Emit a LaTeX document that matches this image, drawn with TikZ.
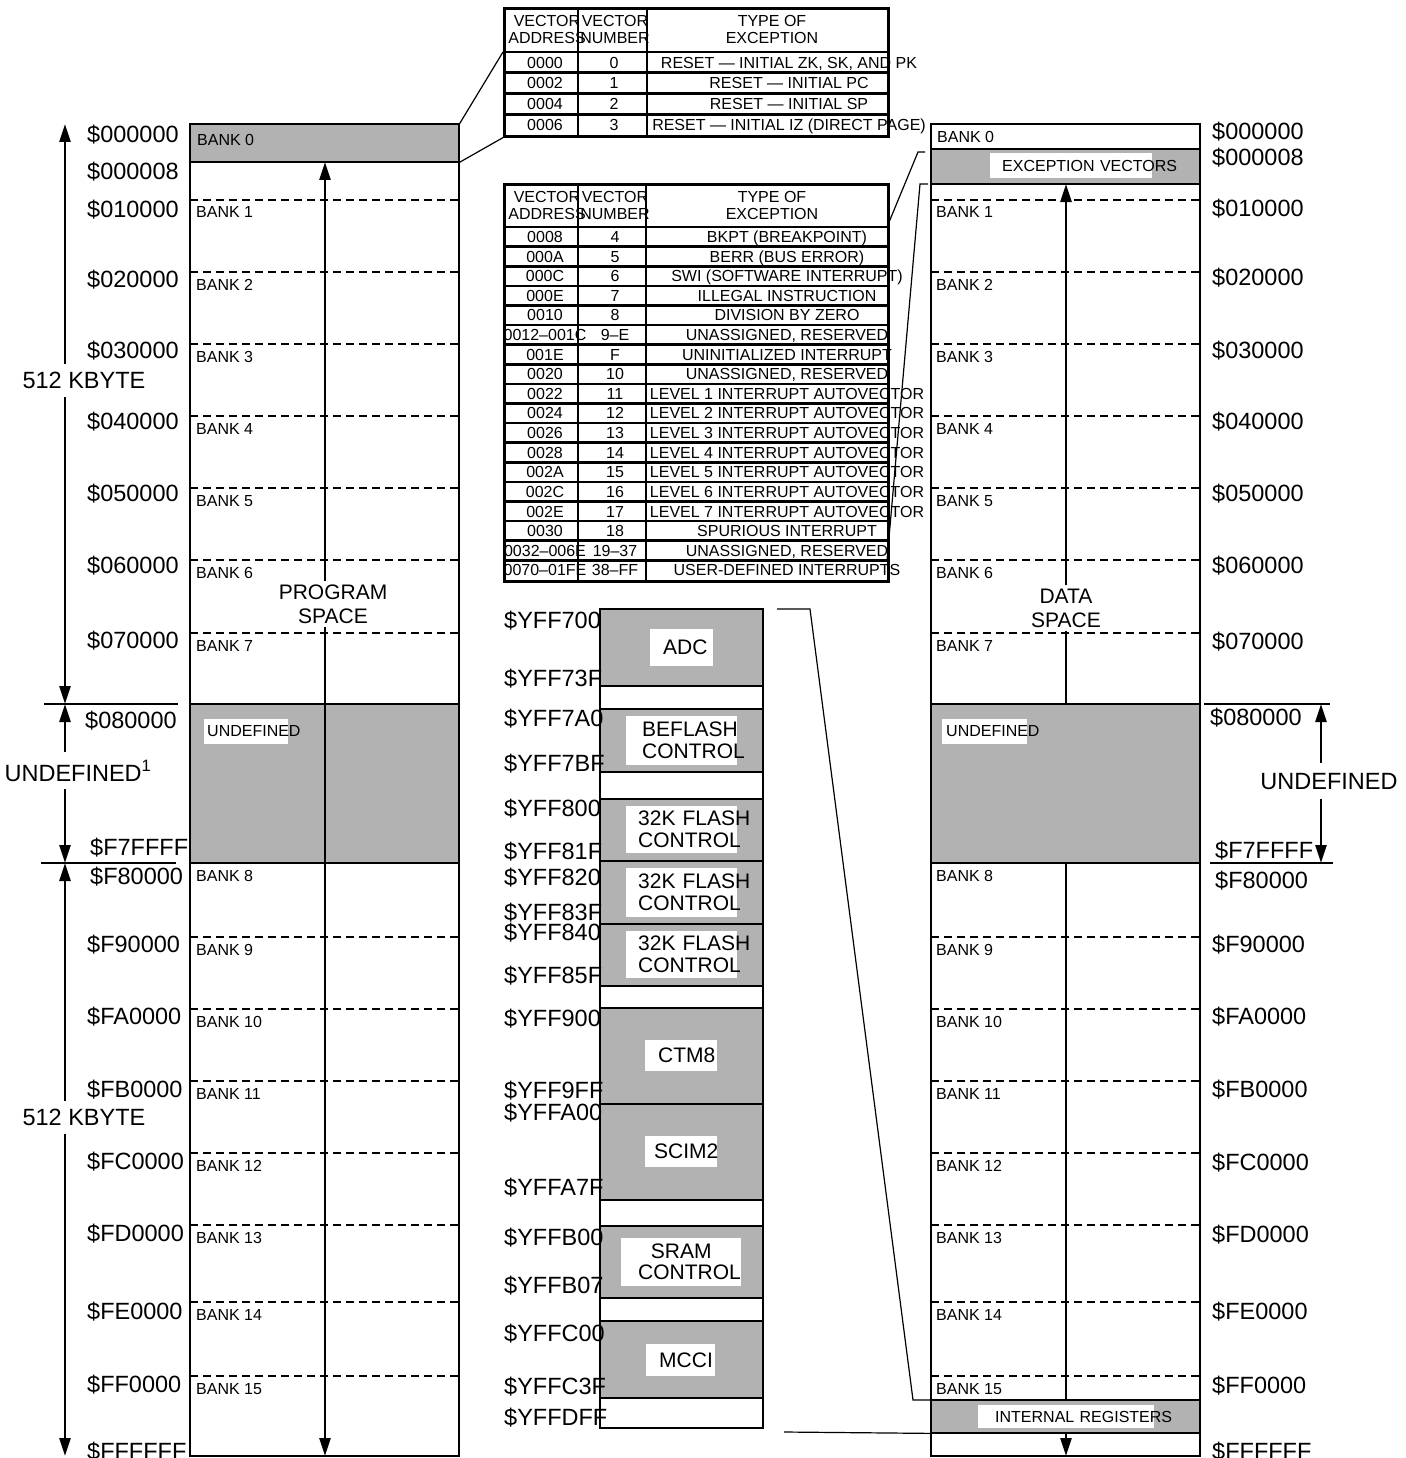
\documentclass[tikz,border=0pt]{standalone}
\usepackage{fontspec}
\setmainfont{Liberation Sans}
\usetikzlibrary{arrows.meta}
\definecolor{mapgrey}{RGB}{178,178,178}
\newcommand{\addrfont}{\fontsize{23.5}{25}\selectfont}
\newcommand{\modfont}{\fontsize{21}{21.5}\selectfont}
\newcommand{\tabfont}{\fontsize{16}{17}\selectfont}
\uchyph=0
\hyphenpenalty=10000
\hbadness=10000
\hfuzz=2000pt

\begin{document}
\begin{tikzpicture}[x=1pt,y=-1pt,
  >={Triangle[length=18pt,width=11pt]},
  outline/.style={line width=2.6pt},
  bankline/.style={line width=2pt,dash pattern=on 8pt off 5pt},
  dimline/.style={line width=2.6pt},
  link/.style={line width=1.2pt},
  band/.style={fill=mapgrey,inner sep=0pt,anchor=north west,minimum width=269pt},
  tabframe/.style={draw,line width=2.6pt,inner sep=0pt,anchor=north west,minimum width=384pt},
  addr/.style={font=\addrfont,anchor=base west,inner sep=0pt},
  bank/.style={font=\tabfont,anchor=base west,inner sep=0pt},
  cell/.style={font=\tabfont,anchor=base,inner sep=0pt},
  head/.style={font=\tabfont,align=center,inner sep=0pt},
  tag/.style={fill=white,anchor=west,align=center,inner ysep=0pt},
  dimlabel/.style={font=\addrfont,fill=white,anchor=base,inner xsep=2pt,inner ysep=8pt},
  spacelabel/.style={font=\fontsize{21}{24}\selectfont,fill=white,align=center,inner sep=3pt}
]
\useasboundingbox (0,0) rectangle (1405,1458);

% ---- program space (left map)
\node[band,minimum height=38pt] (bankzero) at (190,124) {};
\fill[mapgrey] (190,704) rectangle (459,863);
\node[spacelabel] (progspace) at (333,604) {PROGRAM\\SPACE};
\foreach \y in {200,272,344,416,488,560,633,937,1009,1081,1153,1225,1302,1376}
  \draw[bankline] (190,\y) -- (459,\y);
\coordinate (progtop) at (325,162);
\coordinate (progbot) at (325,1456);
\draw[dimline,->] (progspace.north -| progtop) -- (progtop);
\draw[dimline,->] (progspace.south -| progbot) -- (progbot);
\draw[outline] (190,124) rectangle (459,1456);
\foreach \y in {162,704,863}
  \draw[outline] (190,\y) -- (459,\y);

% ---- data space (right map)
\node[band,minimum height=35pt] (excvec) at (931,149) {};
\fill[mapgrey] (931,704) rectangle (1200,863);
\node[spacelabel] (dataspace) at (1066,608) {DATA\\SPACE};
\foreach \y in {200,272,344,416,488,560,633,937,1009,1081,1153,1225,1302,1376}
  \draw[bankline] (931,\y) -- (1200,\y);
\coordinate (datatop) at (1066,184);
\coordinate (datamid) at (1066,704);
\coordinate (datalow) at (1066,863);
\coordinate (databot) at (1066,1456);
\draw[dimline,->] (dataspace.north -| datatop) -- (datatop);
\draw[dimline] (dataspace.south -| datamid) -- (datamid);
\draw[dimline,->] (datalow) -- (databot);
\node[band,minimum height=33pt] (intreg) at (931,1400) {};
\draw[outline] (931,124) rectangle (1200,1456);
\foreach \y in {149,184,704,863,1400,1433}
  \draw[outline] (931,\y) -- (1200,\y);

% ---- module stack
\foreach \t/\b in {609/686,709/772,799/861,861/924,924/986,1008/1104,1104/1200,1226/1298,1321/1398}
  \fill[mapgrey] (600,\t) rectangle (763,\b);
\draw[outline] (600,609) rectangle (763,1428);
\foreach \y in {686,709,772,799,861,924,986,1008,1104,1200,1226,1298,1321,1398}
  \draw[outline] (600,\y) -- (763,\y);

% ---- reset vector table
\node[tabframe,minimum height=128pt] (resettab) at (503,7) {};
\draw[outline] (578,7) -- (578,135);
\draw[outline] (647,7) -- (647,135);
\foreach \y in {52,72.75,93.5,114.25}
  \draw[outline] (503,\y) -- (887,\y);
\node[head] (rhaddr) at (547,29.5) {VECTOR\\ADDRESS};
\node[head] (rhnum) at (615,29.5) {VECTOR\\NUMBER};
\node[head] (rhtype) at (772,29.5) {TYPE OF\\EXCEPTION};
\foreach \adr/\vnum/\what [count=\k from 0] in {
    0000/0/{RESET --- INITIAL ZK, SK, AND PK},
    0002/1/RESET --- INITIAL PC,
    0004/2/RESET --- INITIAL SP,
    0006/3/RESET --- INITIAL IZ (DIRECT PAGE)} {
  \node[cell] (raddr\k) at (545,{52+20.75*(\k+0.5)+5.7}) {\adr};
  \node[cell] (rnum\k) at (614,{52+20.75*(\k+0.5)+5.7}) {\vnum};
  \node[cell] (rtype\k) at (789,{52+20.75*(\k+0.5)+5.7}) {\what};
}

% ---- exception vector table
\node[tabframe,minimum height=397pt] (vectab) at (503,183) {};
\draw[outline] (578,183) -- (578,580);
\draw[outline] (646,183) -- (646,580);
\foreach \k in {0,...,17}
  \draw[outline] (503,{227+19.61*\k}) -- (887,{227+19.61*\k});
\node[head] (vhaddr) at (547,205) {VECTOR\\ADDRESS};
\node[head] (vhnum) at (615,205) {VECTOR\\NUMBER};
\node[head] (vhtype) at (772,205) {TYPE OF\\EXCEPTION};
\foreach \adr/\vnum/\what [count=\k from 0] in {
    0008/4/BKPT (BREAKPOINT),
    000A/5/BERR (BUS ERROR),
    000C/6/SWI (SOFTWARE INTERRUPT),
    000E/7/ILLEGAL INSTRUCTION,
    0010/8/DIVISION BY ZERO,
    0012--001C/9--E/{UNASSIGNED, RESERVED},
    001E/F/UNINITIALIZED INTERRUPT,
    0020/10/{UNASSIGNED, RESERVED},
    0022/11/LEVEL 1 INTERRUPT AUTOVECTOR,
    0024/12/LEVEL 2 INTERRUPT AUTOVECTOR,
    0026/13/LEVEL 3 INTERRUPT AUTOVECTOR,
    0028/14/LEVEL 4 INTERRUPT AUTOVECTOR,
    002A/15/LEVEL 5 INTERRUPT AUTOVECTOR,
    002C/16/LEVEL 6 INTERRUPT AUTOVECTOR,
    002E/17/LEVEL 7 INTERRUPT AUTOVECTOR,
    0030/18/SPURIOUS INTERRUPT,
    0032--006E/19--37/{UNASSIGNED, RESERVED},
    0070--01FE/38--FF/USER-DEFINED INTERRUPTS} {
  \node[cell] (vaddr\k) at (545,{227+19.61*(\k+0.5)+5.7}) {\adr};
  \node[cell] (vnum\k) at (615,{227+19.61*(\k+0.5)+5.7}) {\vnum};
  \node[cell] (vtype\k) at (787,{227+19.61*(\k+0.5)+5.7}) {\what};
}

% ---- connectors
\coordinate (resethead) at (503,52);
\coordinate (vechead) at (887,227);
\coordinate (veclast) at (887,560.4);
\coordinate (modtop) at (777,609);
\coordinate (modfoot) at (784,1432);
\draw[link] (bankzero.north east) -- (resethead);
\draw[link] (bankzero.south east) -- (resettab.south west);
\draw[link] (vechead) -- (918,152) -- ++(7,0);
\draw[link] (veclast) -- (920,184) -- ++(8,0);
\draw[link] (modtop) -- (810,609) -- (913,1400) -- (intreg.north west);
\draw[link] (modfoot) -- (intreg.south west);

% ---- size markers, left
\coordinate (lefttop) at (65,124);
\coordinate (leftundtop) at (65,704);
\coordinate (leftundbot) at (65,863);
\coordinate (leftbot) at (65,1456);
\node[dimlabel] (kbupper) at (84,388.4) {512 KBYTE};
\draw[dimline,->] (kbupper.north -| lefttop) -- (lefttop);
\draw[dimline,->] (kbupper.south -| lefttop) -- (leftundtop);
\node[dimlabel] (undleft) at (78,781) {UNDEFINED\textsuperscript{1}};
\draw[dimline,->] (undleft.north -| lefttop) -- (leftundtop);
\draw[dimline,->] (undleft.south -| lefttop) -- (leftundbot);
\node[dimlabel] (kblower) at (84,1125.4) {512 KBYTE};
\draw[dimline,->] (kblower.north -| lefttop) -- (leftundbot);
\draw[dimline,->] (kblower.south -| lefttop) -- (leftbot);
\draw[outline] (44,704) -- (178,704);
\draw[outline] (41,863) -- (176,863);

% ---- size markers, right
\coordinate (righttop) at (1321,704);
\coordinate (rightbot) at (1321,863);
\node[dimlabel,inner ysep=10pt] (undright) at (1329,789) {UNDEFINED};
\draw[dimline,->] (undright.north -| righttop) -- (righttop);
\draw[dimline,->] (undright.south -| righttop) -- (rightbot);
\draw[outline] (1204,704) -- (1330,704);
\draw[outline] (1210,863) -- (1333,863);

% ---- bank names
\node[bank] (bankL0) at (197,146) {BANK 0};
\node[bank] (bankR0) at (937,143) {BANK 0};
\foreach \b/\y in {1/200,2/272,3/344,4/416,5/488,6/560,7/633,8/863,
                   9/937,10/1009,11/1081,12/1153,13/1225,14/1302,15/1376} {
  \node[bank] (bankL\b) at (196,{\y+18}) {BANK \b};
  \node[bank] (bankR\b) at (936,{\y+18}) {BANK \b};
}

% ---- grey band tags
\node[tag,font=\tabfont,text width=78pt,inner xsep=3pt,minimum height=25pt] (undtagL) at (204,731.5) {UNDEFINED};
\node[tag,font=\tabfont,text width=77pt,inner xsep=4pt,minimum height=25pt] (undtagR) at (942,731.5) {UNDEFINED};
\node[tag,font=\tabfont,text width=138pt,inner xsep=12pt,minimum height=25pt] (exctag) at (990,165.5) {EXCEPTION~VECTORS};
\node[tag,font=\tabfont,text width=142pt,inner xsep=17pt,minimum height=23pt] (regtag) at (978,1416.5) {INTERNAL~REGISTERS};

% ---- module names
\node[tag,font=\modfont,text width=37pt,inner xsep=13pt,minimum height=37pt] (adc) at (650,647.5) {ADC};
\node[tag,font=\modfont,text width=79pt,inner xsep=16pt,minimum height=49pt] (beflash) at (626,740.5) {BEFLASH\\CONTROL};
\node[tag,font=\modfont,text width=87pt,inner xsep=12pt,minimum height=47pt] (flasha) at (626,829.5) {32K~FLASH\\CONTROL};
\node[tag,font=\modfont,text width=87pt,inner xsep=12pt,minimum height=49pt] (flashb) at (626,892.5) {32K~FLASH\\CONTROL};
\node[tag,font=\modfont,text width=87pt,inner xsep=12pt,minimum height=47pt] (flashc) at (626,954.5) {32K~FLASH\\CONTROL};
\node[tag,font=\modfont,text width=46pt,inner xsep=13pt,minimum height=31pt] (ctm) at (645,1055.5) {CTM8};
\node[tag,font=\modfont,text width=54pt,inner xsep=9pt,minimum height=31pt] (scim) at (645,1151.5) {SCIM2};
\node[tag,font=\modfont,text width=86pt,inner xsep=17pt,minimum height=48pt] (sram) at (621,1262) {SRAM\\CONTROL};
\node[tag,font=\modfont,text width=43pt,inner xsep=13pt,minimum height=32pt] (mcci) at (646,1360) {MCCI};

% ---- addresses
\foreach \lbl/\y in {000000/142.4,000008/180,010000/217.4,020000/287,030000/358.4,
    040000/429.4,050000/501.4,060000/573.4,070000/648.4,F90000/952.4,FA0000/1024.4,
    FB0000/1097.4,FC0000/1169.4,FD0000/1241.4,FE0000/1319.4,FF0000/1392.4,FFFFFF/1459.4}
  \node[addr] (addrL\lbl) at (87,\y) {\$\lbl};
\node[addr] (addrL080000) at (85,728.4) {\$080000};
\node[addr] (addrLF7FFFF) at (90,855.4) {\$F7FFFF};
\node[addr] (addrLF80000) at (90,884.4) {\$F80000};

\foreach \lbl/\y in {000000/139.4,000008/165.4,010000/216.4,020000/285.4,030000/358.4,
    040000/429.4,050000/501.4,060000/573.4,070000/649.4,F90000/952.4,FA0000/1024.4,
    FB0000/1097.4,FC0000/1170.4,FD0000/1242.4,FE0000/1319.4,FF0000/1393.4,FFFFFF/1459.4}
  \node[addr] (addrR\lbl) at (1212,\y) {\$\lbl};
\node[addr] (addrR080000) at (1210,725.4) {\$080000};
\node[addr] (addrRF7FFFF) at (1215,858.4) {\$F7FFFF};
\node[addr] (addrRF80000) at (1215,888.4) {\$F80000};

\foreach \lbl/\y in {YFF700/628.4,YFF73F/686.4,YFF7A0/726.4,YFF7BF/771.4,YFF800/816.4,
    YFF81F/859.4,YFF820/885.4,YFF83F/920.4,YFF840/940.4,YFF85F/983.4,YFF900/1026.4,
    YFF9FF/1098.4,YFFA00/1120.4,YFFA7F/1195.4,YFFB00/1245.4,YFFB07/1293.4,
    YFFC00/1341.4,YFFC3F/1394.4,YFFDFF/1425.4}
  \node[addr] (mod\lbl) at (504,\y) {\$\lbl};
\end{tikzpicture}
\end{document}
